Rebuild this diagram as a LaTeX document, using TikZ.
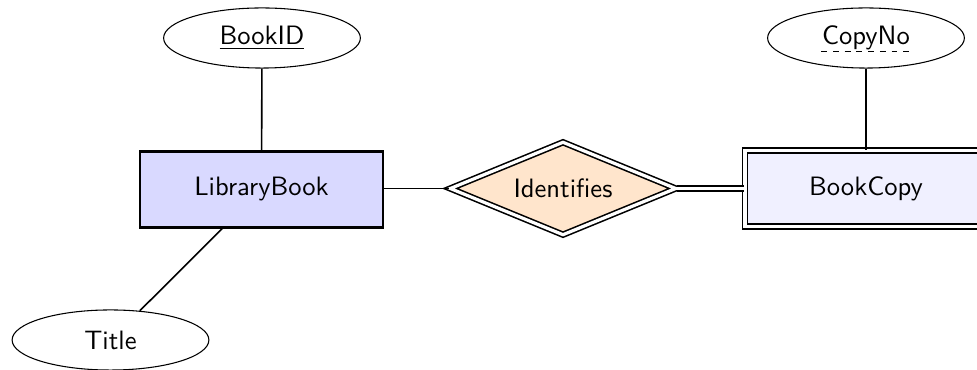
\documentclass[tikz,border=0pt]{standalone}
\usetikzlibrary{shapes.geometric}
\begin{document}
\begin{tikzpicture}[x=0.376pt,y=-0.376pt,
  every node/.style={font=\sffamily},
  attr/.style={ellipse,draw,thin,minimum width=74pt,minimum height=22.6pt,inner sep=0pt},
  entity/.style={rectangle,draw,thick,fill=blue!15,minimum width=91.4pt,minimum height=28.6pt},
  weakentity/.style={rectangle,draw,semithick,double,double distance=1.2pt,fill=blue!6,minimum width=91pt,minimum height=28.6pt},
  rel/.style={diamond,aspect=2.4,draw,semithick,double,double distance=1.2pt,fill=orange!20,minimum width=85pt,minimum height=35pt,inner sep=0pt},
  conn/.style={semithick}]
\useasboundingbox (0,0) rectangle (977,370);
\node[attr] (bookid) at (262,38) {\underline{BookID}};
\node[entity] (lb) at (261.5,189.5) {LibraryBook};
\node[attr] (title) at (110.5,340) {Title};
\node[rel] (idf) at (563,188.5) {Identifies};
\node[weakentity] (bc) at (866,188.5) {BookCopy};
\node[attr] (copyno) at (866,38) {CopyNo};
\draw[thin,dash pattern=on 2.2pt off 2.2pt] ([xshift=-16.8pt,yshift=-2.4pt]copyno.base) -- ([xshift=16.8pt,yshift=-2.4pt]copyno.base);
\draw[conn] (bookid) -- (lb);
\draw[conn] (title) -- (lb);
\draw[conn] (lb.east |- idf.west) -- (idf.west);
\draw[conn] (copyno) -- (bc);
\draw[semithick,double,double distance=1.2pt] (idf.east) -- (bc.west);
\end{tikzpicture}
\end{document}
